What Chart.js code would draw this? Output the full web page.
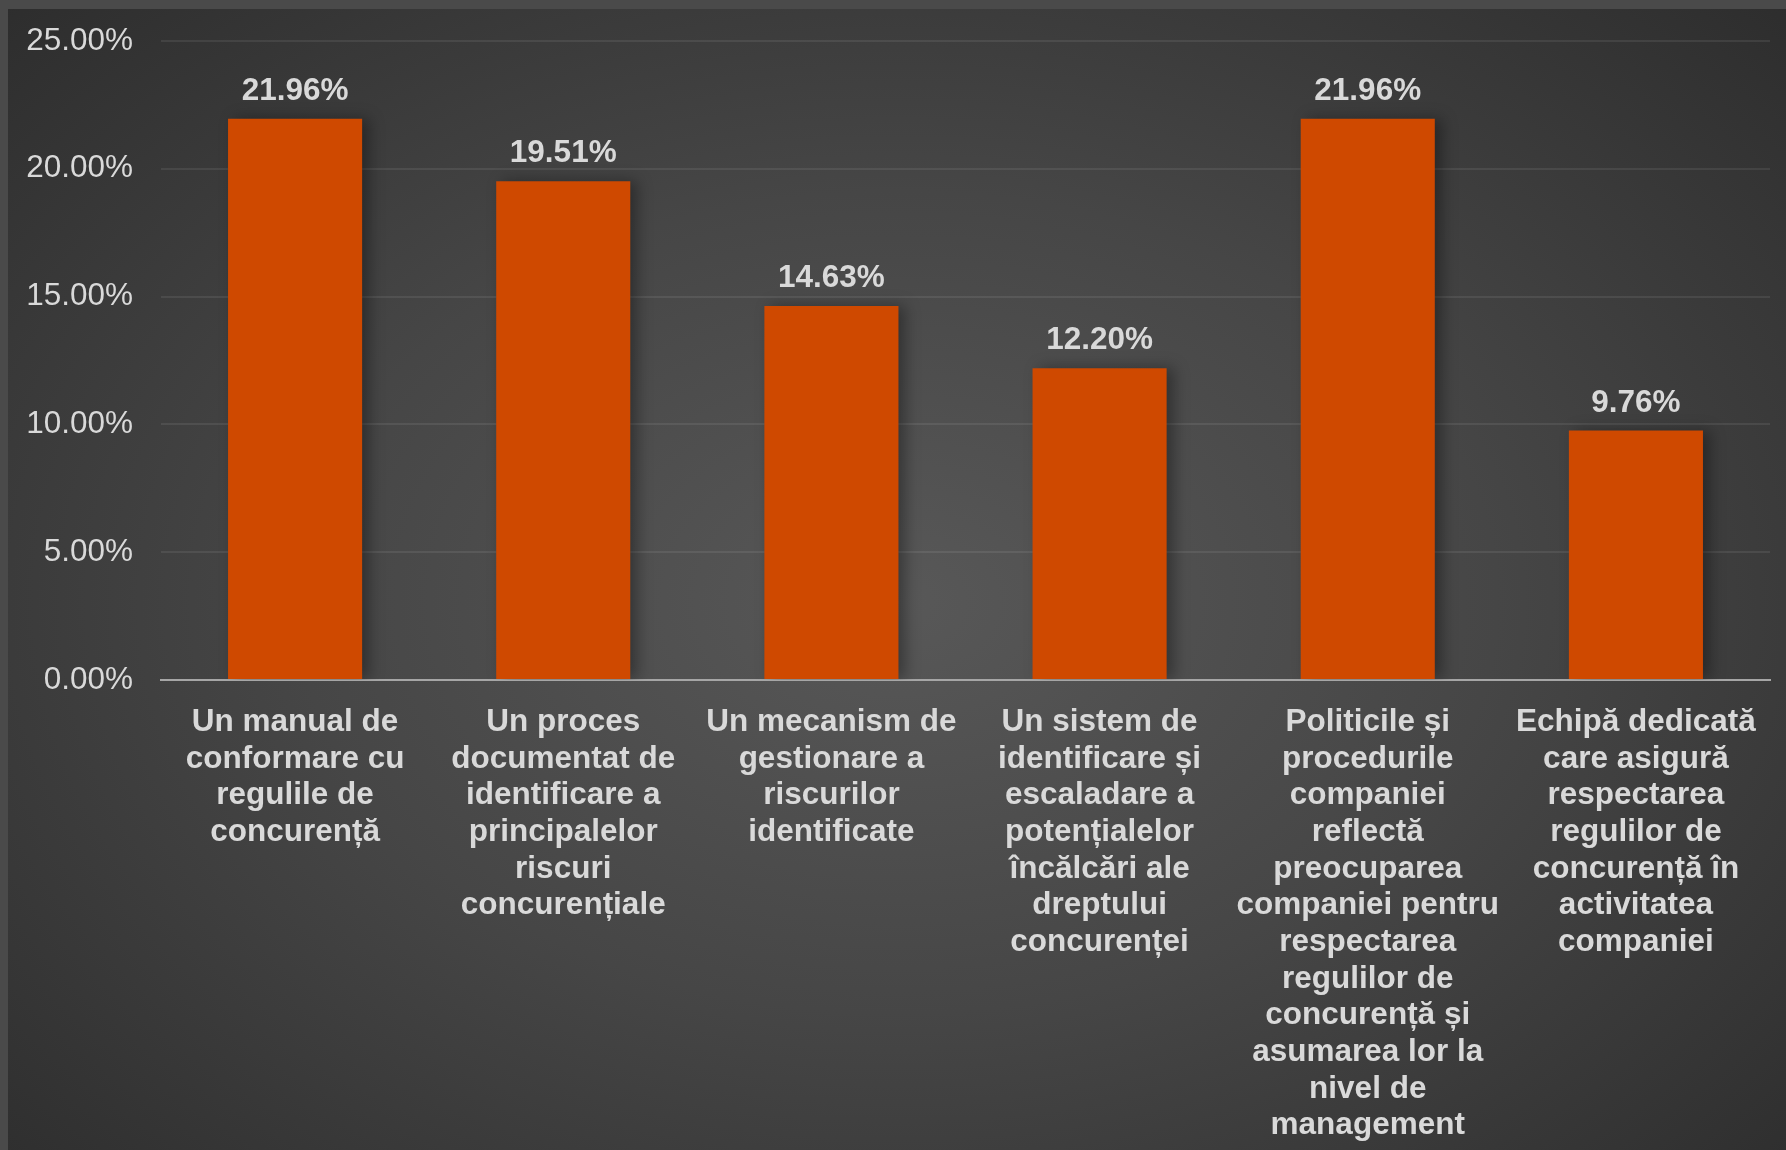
<!DOCTYPE html>
<html>
<head>
<meta charset="utf-8">
<script src="https://cdn.jsdelivr.net/npm/chart.js@4"></script>
<style>
    html, body { margin: 0; padding: 0; background: #4a4a4a; }
    #frame {
        position: absolute; left: 8px; top: 9px;
        width: 1778px; height: 1141px;
        background: radial-gradient(ellipse 75% 80% at 50% 52%, #585858 0%, #464646 45%, #2a2a2a 100%);
    }
    canvas { display: block; }
</style>
</head>
<body>
<div id="frame"><canvas id="chart" width="1778" height="1141"></canvas></div>
<script>
const categories = [
    ["Un manual de", "conformare cu", "regulile de", "concurență"],
    ["Un proces", "documentat de", "identificare a", "principalelor", "riscuri", "concurențiale"],
    ["Un mecanism de", "gestionare a", "riscurilor", "identificate"],
    ["Un sistem de", "identificare și", "escaladare a", "potențialelor", "încălcări ale", "dreptului", "concurenței"],
    ["Politicile și", "procedurile", "companiei", "reflectă", "preocuparea", "companiei pentru", "respectarea", "regulilor de", "concurență și", "asumarea lor la", "nivel de", "management"],
    ["Echipă dedicată", "care asigură", "respectarea", "regulilor de", "concurență în", "activitatea", "companiei"]
];
const values = [21.96, 19.51, 14.63, 12.20, 21.96, 9.76];
const yTicks = [0, 5, 10, 15, 20, 25];

const FONT = "'Liberation Sans', Arial, sans-serif";
const TEXT = '#d9d9d9';

// soft shadow behind the bars
const barShadow = {
    id: 'barShadow',
    beforeDatasetDraw(chart) {
        const ctx = chart.ctx;
        ctx.save();
        ctx.shadowColor = 'rgba(0,0,0,0.35)';
        ctx.shadowBlur = 14;
        ctx.shadowOffsetX = 7;
        ctx.shadowOffsetY = 0;
    },
    afterDatasetDraw(chart) {
        chart.ctx.restore();
    }
};

// value labels above the bars
const valueLabels = {
    id: 'valueLabels',
    afterDatasetsDraw(chart) {
        const ctx = chart.ctx;
        const meta = chart.getDatasetMeta(0);
        ctx.save();
        ctx.font = 'bold 31.5px ' + FONT;
        ctx.fillStyle = TEXT;
        ctx.textAlign = 'center';
        ctx.textBaseline = 'alphabetic';
        meta.data.forEach((bar, i) => {
            ctx.fillText(values[i].toFixed(2) + '%', bar.x, bar.y - 19);
        });
        ctx.restore();
    }
};

new Chart(document.getElementById('chart'), {
    type: 'bar',
    data: {
        labels: categories,
        datasets: [{
            data: values,
            backgroundColor: '#cf4900',
            borderWidth: 0,
            barPercentage: 0.5,
            categoryPercentage: 1.0
        }]
    },
    plugins: [barShadow, valueLabels],
    options: {
        responsive: false,
        animation: false,
        layout: { padding: { top: 32, right: 16, left: 0, bottom: 0 } },
        plugins: {
            legend: { display: false },
            tooltip: { enabled: false }
        },
        scales: {
            y: {
                min: 0,
                max: 25,
                afterBuildTicks(scale) {
                    scale.ticks = yTicks.map(v => ({ value: v }));
                },
                afterFit(scale) {
                    scale.width = 153;
                    scale.paddingTop = 0;
                    scale.paddingBottom = 0;
                },
                ticks: {
                    callback: v => v.toFixed(2) + '%',
                    color: TEXT,
                    font: { family: FONT, size: 31.5 },
                    padding: 28
                },
                grid: {
                    color: 'rgba(255,255,255,0.08)',
                    lineWidth: 2,
                    drawTicks: false
                },
                border: { display: false }
            },
            x: {
                afterFit(scale) { scale.height = 470; },
                ticks: {
                    color: TEXT,
                    font: { family: FONT, size: 31.5, weight: 'bold', lineHeight: 1.164 },
                    maxRotation: 0,
                    minRotation: 0,
                    autoSkip: false,
                    padding: 24
                },
                grid: { display: false, drawTicks: false },
                border: { display: true, color: '#a6a6a6', width: 2 }
            }
        }
    }
});
</script>
</body>
</html>
